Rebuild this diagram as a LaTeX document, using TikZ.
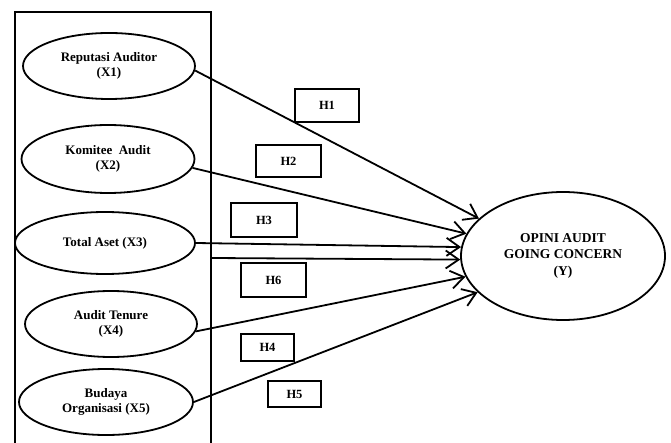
\documentclass[tikz,border=0pt]{standalone}
\usepackage{fontspec}
\setmainfont{Liberation Serif}
\usetikzlibrary{positioning,arrows.meta,calc,shapes.geometric}

\begin{document}
\begin{tikzpicture}[
  x=1pt, y=-1pt,
  font=\bfseries\fontsize{13}{15}\selectfont,
  var/.style={draw, ellipse, line width=1.8pt, inner sep=0pt, align=center,
              minimum width=172pt, minimum height=66pt},
  hyp/.style={draw, line width=2.2pt, inner sep=0pt,
              font=\bfseries\fontsize{12.5}{14}\selectfont},
  arr/.style={line width=1.8pt, -{Straight Barb[length=13pt,width=18pt]}},
]
  \clip (0,0) rectangle (671,443);
  % Independent variables (open frame at the bottom)
  \node[draw, line width=1.8pt, inner sep=0pt, anchor=north west,
        minimum width=196pt, minimum height=450pt] (grp) at (14,11) {};
  \node[var] (X1) at (109,66) {Reputasi Auditor\\(X1)};
  \node[var, minimum width=173pt, minimum height=68pt] (X2) at (108,159)
    {Komitee~ Audit\\(X2)};
  \node[var, minimum width=180pt, minimum height=62pt] (X3) at (105,243)
    {Total Aset (X3)};
  \node[var] (X4) at (111,324) {Audit Tenure\\(X4)};
  \node[var, minimum width=174pt] (X5) at (106,402)
    {Budaya\\Organisasi (X5)};
  % Dependent variable
  \node[var, minimum width=204pt, minimum height=128pt,
        font=\bfseries\fontsize{13.5}{16}\selectfont] (Y) at (563,256)
    {OPINI AUDIT\\GOING CONCERN\\[1pt](Y)};
  % Hypothesis labels
  \node[hyp, minimum width=64pt, minimum height=33pt] (H1) at (327,105.5) {H1};
  \node[hyp, minimum width=65pt, minimum height=32pt] (H2) at (288.5,161) {H2};
  \node[hyp, minimum width=66pt, minimum height=34pt] (H3) at (264,220) {H3};
  \node[hyp, minimum width=65pt, minimum height=34pt] (H6) at (273.5,280) {H6};
  \node[hyp, minimum width=53pt, minimum height=27pt] (H4) at (267.5,347.5) {H4};
  \node[hyp, minimum width=53pt, minimum height=26pt] (H5) at (294.5,394) {H5};
  % Arrows
  \coordinate (h6s) at ($(grp.north east)+(0,247)$);
  \draw[arr] (X1.-3) -- (Y.156);
  \draw[arr] (X2.-6) -- (Y.167);
  \draw[arr] (X3.east) -- (Y.175);
  \draw[arr] (h6s) -- (Y.182);
  \draw[arr] (X4.-5) -- (Y.192);
  \draw[arr] (X5.east) -- (Y.203);
\end{tikzpicture}
\end{document}
